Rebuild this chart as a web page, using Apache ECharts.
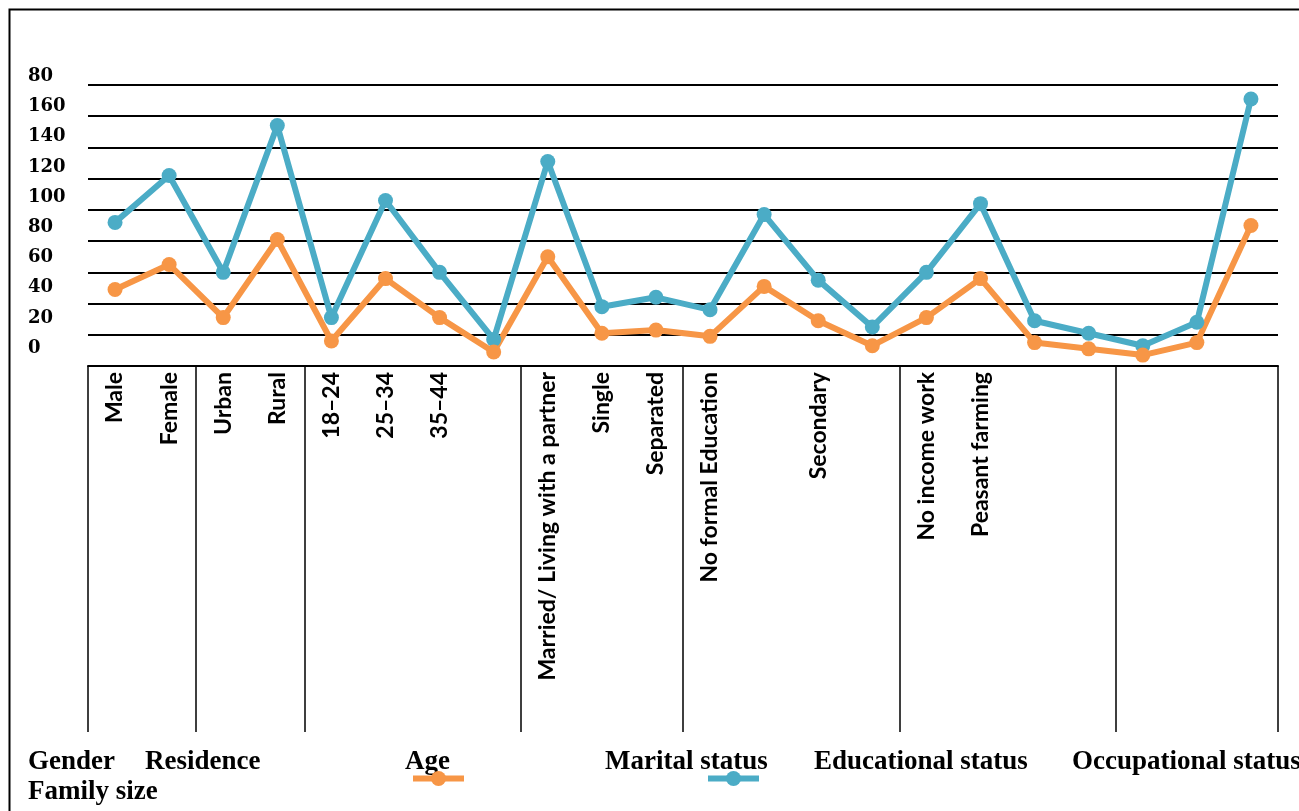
<!DOCTYPE html>
<html>
<head>
    <meta charset="utf8">
    <title>ECharts</title>
    <script src="https://cdn.jsdelivr.net/npm/echarts@6/dist/echarts.min.js"></script>
    <style>
        html, body { margin: 0; padding: 0; background: #fff; }
    </style>
</head>
<body>
    <div id="main" style="width: 1299px;height:811px;"></div>
    <script type="text/javascript">
    // categories along the axis (blank ones have no label in the picture)
    var categories = ['Male', 'Female', 'Urban', 'Rural', '18\u201324', '25\u201334', '35\u201344', '',
        'Married/ Living with a partner', 'Single', 'Separated', 'No formal Education', '', 'Secondary', '',
        'No income work', 'Peasant farming', '', '', '', '', ''];
    // first index of each group (Gender, Residence, Age, Marital, Education, Occupation, Family size)
    var groupStarts = [0, 2, 4, 8, 11, 15, 19];
    var blueValues = [92, 122, 60, 154, 31, 106, 60, 17, 131, 38, 44, 36, 97, 55, 25, 60, 104, 29, 21, 13, 28, 171];
    var orangeValues = [49, 65, 31, 81, 16, 56, 31, 9, 70, 21, 23, 19, 51, 29, 13, 31, 56, 15, 11, 7, 15, 90];
    var tickValues = [0, 20, 40, 60, 80, 100, 120, 140, 160, 180];
    var tickLabels = ['0', '20', '40', '60', '80', '100', '120', '140', '160', '80'];
    var bottomTexts = [
        { text: 'Gender', x: 28, y: 762 },
        { text: 'Residence', x: 145, y: 762 },
        { text: 'Age', x: 405, y: 762 },
        { text: 'Marital status', x: 605, y: 762 },
        { text: 'Educational status', x: 814, y: 762 },
        { text: 'Occupational status', x: 1072, y: 762 },
        { text: 'Family size', x: 28, y: 792 }
    ];

    var myChart = echarts.init(document.getElementById('main'));

    var graphics = [{
        type: 'rect',
        shape: { x: 9.5, y: 9.5, width: 1400, height: 900 },
        style: { fill: 'none', stroke: '#000', lineWidth: 2 }
    }];
    bottomTexts.forEach(function (t) {
        graphics.push({
            type: 'text', x: t.x, y: t.y,
            style: {
                text: t.text, fill: '#000',
                font: 'bold 27px "Liberation Serif"',
                verticalAlign: 'middle'
            }
        });
    });

    function legendFor(name, left) {
        return {
            data: [name], left: left, top: 764, itemWidth: 51, itemHeight: 19,
            lineStyle: { width: 6 },
            formatter: function () { return ''; }, selectedMode: false
        };
    }

    var option = {
        animation: false,
        graphic: graphics,
        legend: [legendFor('Age', 405), legendFor('Marital status', 700)],
        grid: [
            { left: 88, right: 21, top: 85, bottom: 445 },
            { left: 88, right: 21, top: 60, bottom: 445 }
        ],
        xAxis: [{
            type: 'category',
            gridIndex: 0,
            data: categories,
            boundaryGap: true,
            axisLine: { lineStyle: { color: '#000', width: 2 } },
            axisTick: {
                show: true,
                length: 366,
                interval: function (idx) { return groupStarts.indexOf(idx) >= 0; },
                lineStyle: { color: '#000', width: 1.5 }
            },
            axisLabel: {
                interval: 0,
                rotate: 90,
                margin: 6,
                color: '#000',
                fontFamily: 'Lato',
                fontWeight: 'bold',
                fontSize: 23
            }
        }, {
            type: 'value', gridIndex: 1, show: false
        }],
        yAxis: [{
            type: 'value',
            gridIndex: 0,
            min: 0,
            max: 180,
            interval: 20,
            axisLine: { show: false },
            axisTick: { show: false },
            axisLabel: { show: false },
            splitLine: { lineStyle: { color: '#000', width: 2 } }
        }, {
            type: 'value',
            gridIndex: 1,
            min: -11.92,
            max: 190.9,
            axisLine: { show: false },
            axisTick: { show: false },
            splitLine: { show: false },
            axisLabel: {
                customValues: tickValues,
                formatter: function (v) { return tickLabels[tickValues.indexOf(Math.round(v))]; },
                align: 'left',
                margin: 60,
                color: '#000',
                fontFamily: 'DejaVu Serif',
                fontWeight: 'bold',
                fontSize: 18
            }
        }],
        series: [{
            name: 'Marital status',
            type: 'line',
            data: blueValues,
            symbol: 'circle',
            symbolSize: 15,
            color: '#4BACC6',
            lineStyle: { width: 6, color: '#4BACC6' }
        }, {
            name: 'Age',
            type: 'line',
            data: orangeValues,
            symbol: 'circle',
            symbolSize: 15,
            color: '#F79646',
            lineStyle: { width: 6, color: '#F79646' }
        }]
    };
    myChart.setOption(option);
    </script>
</body>
</html>
